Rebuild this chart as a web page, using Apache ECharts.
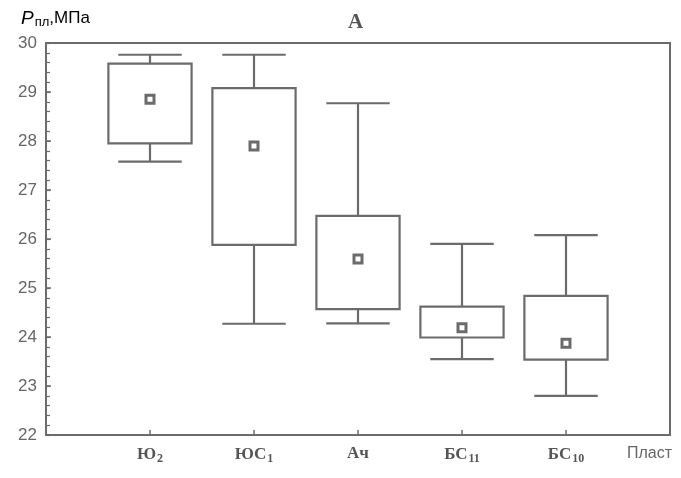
<!DOCTYPE html>
<html><head><meta charset="utf-8">
<script src="https://cdn.jsdelivr.net/npm/echarts@6/dist/echarts.min.js"></script>
<style>html,body{margin:0;padding:0;background:#fff}#c{width:681px;height:478px}</style>
</head><body><div id="c"></div>
<script>
const categories = ['Ю2', 'ЮС1', 'Ач', 'БС11', 'БС10'];
const catMain = ['Ю', 'ЮС', 'Ач', 'БС', 'БС'];
const catSub = ['2', '1', '', '11', '10'];
const whiskerLow = [27.58, 24.27, 24.28, 23.55, 22.80];
const boxLow = [27.95, 25.88, 24.57, 23.99, 23.54];
const boxHigh = [29.58, 29.08, 26.47, 24.62, 24.84];
const whiskerHigh = [29.76, 29.76, 28.77, 25.90, 26.08];
const means = [28.85, 27.90, 25.59, 24.19, 23.87];
const yTicks = [22, 23, 24, 25, 26, 27, 28, 29, 30];
const catPos = [1, 2, 3, 4, 5];

const gray = '#6b6b6b';
const chart = echarts.init(document.getElementById('c'));
const boxData = categories.map((c, i) => [catPos[i], whiskerLow[i], boxLow[i], boxHigh[i], whiskerHigh[i]]);
const meanData = categories.map((c, i) => [catPos[i], means[i]]);

chart.setOption({
  animation: false,
  backgroundColor: '#fff',
  grid: { left: 46, right: 11, top: 43, bottom: 43, show: true, borderColor: gray, borderWidth: 2, backgroundColor: 'transparent' },
  xAxis: {
    type: 'value', min: 0, max: 6,
    splitLine: { show: false },
    axisLine: { show: true, lineStyle: { color: gray, width: 2 } },
    axisTick: { show: true, inside: true, length: 5, customValues: catPos, lineStyle: { color: gray, width: 1.5 } },
    axisLabel: {
      customValues: catPos, margin: 10,
      formatter: v => { const i = Math.round(v) - 1; return '{m|' + catMain[i] + '}' + (catSub[i] ? '{s|' + catSub[i] + '}' : ''); },
      rich: {
        m: { fontFamily: 'Liberation Serif', fontWeight: 'bold', fontSize: 17, color: '#555' },
        s: { fontFamily: 'Liberation Serif', fontWeight: 'bold', fontSize: 12, color: '#555', padding: [8, 0, 0, 1] }
      }
    }
  },
  yAxis: [
    {
      type: 'value', min: 22, max: 30, interval: 1,
      splitLine: { show: false },
      axisLine: { show: true, lineStyle: { color: gray, width: 2 } },
      axisTick: { show: true, inside: true, length: 5, lineStyle: { color: gray, width: 1.5 } },
      axisLabel: { margin: 9, fontFamily: 'Liberation Sans', fontSize: 17, color: '#666',
        formatter: v => yTicks.includes(v) ? String(v) : '' }
    },
    {
      type: 'value', min: 22, max: 30, interval: 0.2, position: 'left', offset: 0,
      splitLine: { show: false },
      axisLine: { show: false },
      axisTick: { show: true, inside: true, length: 4, lineStyle: { color: gray, width: 1.2 } },
      axisLabel: { show: false }
    }
  ],
  graphic: [
    { type: 'text', left: 348, top: 12, style: { text: 'А', font: 'bold 21px "Liberation Serif"', fill: '#555' } },
    { type: 'text', left: 21, top: 9, style: {
      text: '{p|P}{s|пл}{n|,МПа}',
      rich: {
        p: { fontFamily: 'Liberation Sans', fontStyle: 'italic', fontSize: 19, color: '#666' },
        s: { fontFamily: 'Liberation Sans', fontSize: 13, color: '#666', padding: [8, 0, 0, 1] },
        n: { fontFamily: 'Liberation Sans', fontSize: 17, color: '#666' }
      } } },
    { type: 'text', left: 627, top: 446, style: { text: 'Пласт', font: '16px "Liberation Sans"', fill: '#666' } }
  ],
  series: [
    {
      type: 'custom',
      data: boxData,
      yAxisIndex: 0,
      encode: { x: 0, y: [1, 2, 3, 4] },
      renderItem: (params, api) => {
        const x = api.value(0);
        const unit = api.size([1, 0])[0];
        const bw = unit * 0.8 / 2, cw = unit * 0.61 / 2;
        const pWl = api.coord([x, api.value(1)]);
        const pBl = api.coord([x, api.value(2)]);
        const pBh = api.coord([x, api.value(3)]);
        const pWh = api.coord([x, api.value(4)]);
        const cx = pWl[0];
        const st = { stroke: gray, lineWidth: 2.2, fill: null };
        return {
          type: 'group',
          children: [
            { type: 'rect', shape: { x: cx - bw, y: pBh[1], width: 2 * bw, height: pBl[1] - pBh[1] }, style: { stroke: gray, lineWidth: 2.2, fill: 'rgba(0,0,0,0)' } },
            { type: 'line', shape: { x1: cx, y1: pBh[1], x2: cx, y2: pWh[1] }, style: st },
            { type: 'line', shape: { x1: cx - cw, y1: pWh[1], x2: cx + cw, y2: pWh[1] }, style: st },
            { type: 'line', shape: { x1: cx, y1: pBl[1], x2: cx, y2: pWl[1] }, style: st },
            { type: 'line', shape: { x1: cx - cw, y1: pWl[1], x2: cx + cw, y2: pWl[1] }, style: st }
          ]
        };
      },
      z: 2
    },
    {
      type: 'scatter',
      data: meanData,
      yAxisIndex: 0,
      symbol: 'rect',
      symbolSize: 8,
      itemStyle: { color: '#fff', borderColor: gray, borderWidth: 3, opacity: 1 },
      z: 3
    }
  ]
});
</script>
</body></html>
